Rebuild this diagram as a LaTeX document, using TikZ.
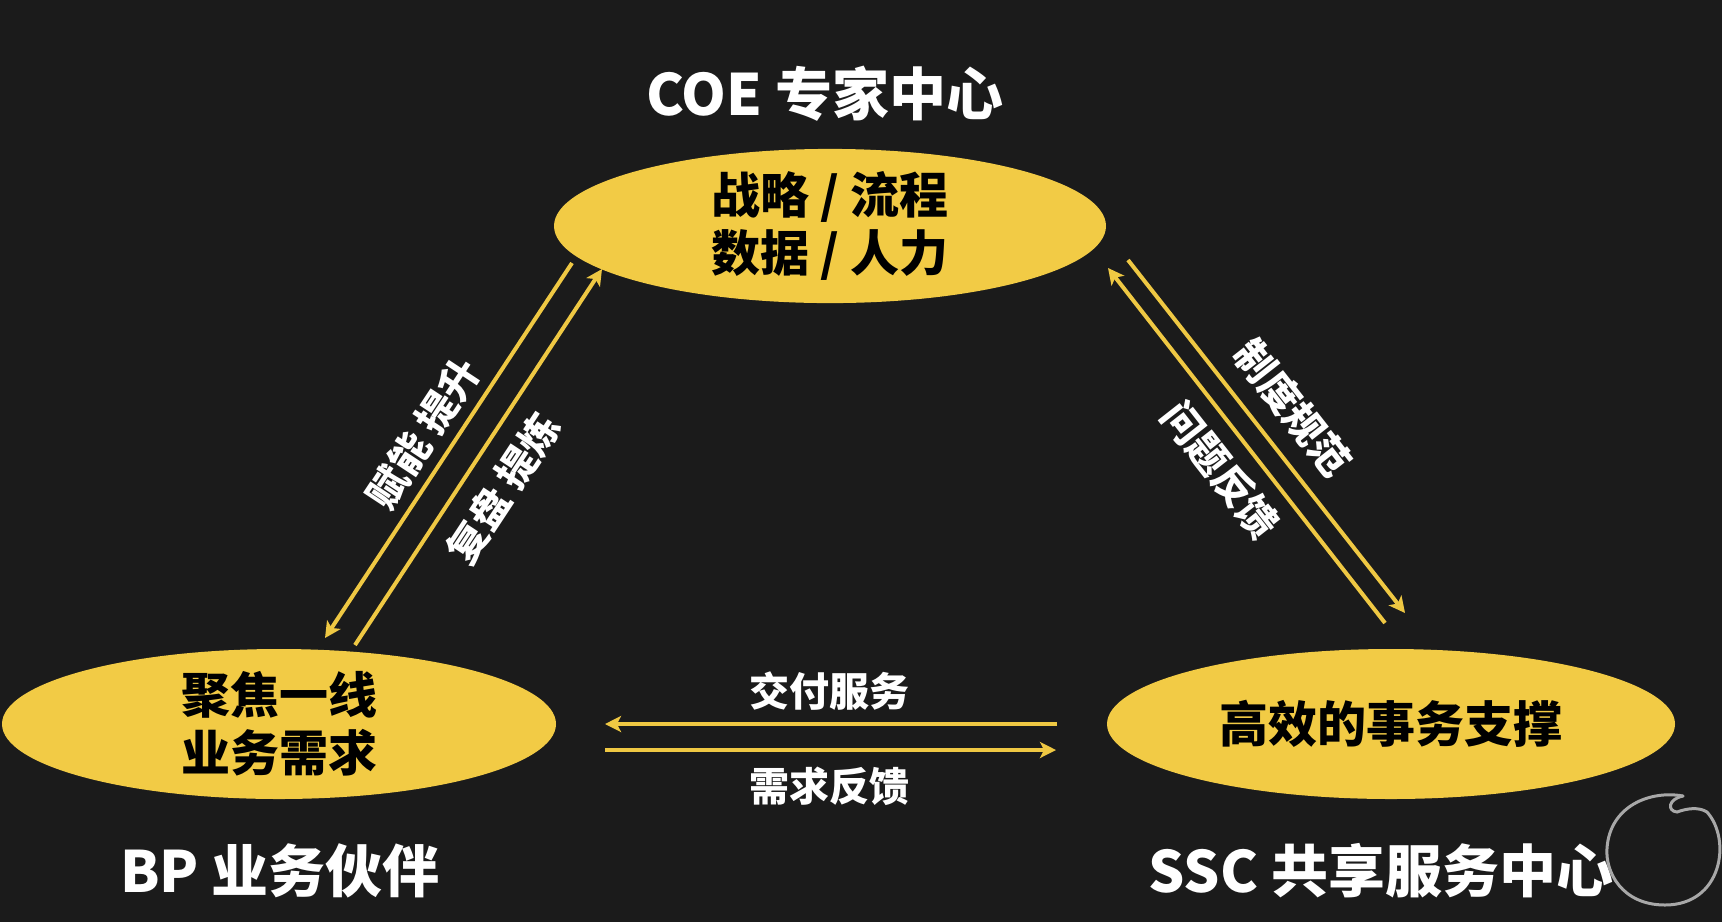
\documentclass[tikz,border=0pt]{standalone}
\usepackage{fontspec}
\setmainfont{Noto Sans CJK SC}
\usetikzlibrary{shapes.geometric,arrows.meta,calc}
\definecolor{bgc}{HTML}{1B1B1B}
\definecolor{gold}{HTML}{F2CB45}
\definecolor{goldline}{HTML}{EFC843}
\definecolor{wmgray}{HTML}{A8A8A8}
\begin{document}
\begin{tikzpicture}[x=0.5pt,y=-0.5pt,
  blob/.style={ellipse,fill=gold,draw=none,inner sep=0pt,align=center,text=black,
    font=\fontsize{24.5pt}{29pt}\selectfont\bfseries},
  title/.style={text=white,inner sep=0pt,font=\fontsize{28.5pt}{32pt}\selectfont\bfseries},
  lab/.style={text=white,inner sep=0pt,font=\fontsize{20pt}{24pt}\selectfont\bfseries},
  flow/.style={draw=goldline,line width=2pt,-{Stealth[length=8pt,width=8pt,inset=2pt]}},
  wm/.style={draw=wmgray,line width=1.5pt,line cap=round}]
\fill[bgc] (0,0) rectangle (1722,922);
\useasboundingbox (0,0) rectangle (1722,922);

% ellipses
\node[blob,minimum width=276pt,minimum height=74pt] (coe) at (830,226) {战略 / 流程\\数据 / 人力};
\node[blob,minimum width=277pt,minimum height=75pt] (bp) at (279,724) {聚焦一线\\业务需求};
\node[blob,minimum width=284pt,minimum height=75pt] (ssc) at (1391,724) {高效的事务支撑};

% titles
\node[title] (coeT) at (825,94) {COE 专家中心};
\node[title] (bpT) at (280,871) {BP 业务伙伴};
\node[title] (sscT) at (1381,871) {SSC 共享服务中心};

% connector end points
\coordinate (c1a) at ($(coe)+(-258,37)$);
\coordinate (c1b) at ($(bp)+(46,-86)$);
\coordinate (c2a) at ($(bp)+(76,-79)$);
\coordinate (c2b) at ($(coe)+(-228,43)$);
\coordinate (c3a) at ($(coe)+(298,34)$);
\coordinate (c3b) at ($(ssc)+(14,-111)$);
\coordinate (c4a) at ($(ssc)+(-6,-101)$);
\coordinate (c4b) at ($(coe)+(278,42)$);
\coordinate (c5a) at ($(ssc)+(-334,0)$);
\coordinate (c5b) at ($(bp)+(326,0)$);
\coordinate (c6a) at ($(bp)+(326,26)$);
\coordinate (c6b) at ($(ssc)+(-335,26)$);

\draw[flow] (c1a) -- (c1b);
\draw[flow] (c2a) -- (c2b);
\draw[flow] (c3a) -- (c3b);
\draw[flow] (c4a) -- (c4b);
\draw[flow] (c5a) -- (c5b);
\draw[flow] (c6a) -- (c6b);

% labels
\node[lab,rotate=56.6] (l1) at (423,433) {赋能 提升};
\node[lab,rotate=56.6] (l2) at (503,488) {复盘 提炼};
\node[lab,rotate=-51.9] (l3) at (1293,408) {制度规范};
\node[lab,rotate=-51.9] (l4) at (1221,470) {问题反馈};
\node[lab] (l5) at (829,691) {交付服务};
\node[lab] (l6) at (829,786) {需求反馈};

% watermark
\draw[wm] (1707,812) .. controls (1732,840) and (1722,905) .. (1665,905)
  .. controls (1622,905) and (1605,872) .. (1607,848)
  .. controls (1610,806) and (1650,790) .. (1683,796);
\draw[wm] (1683,796) .. controls (1668,799) and (1667,811) .. (1677,812)
  .. controls (1688,808) and (1699,807) .. (1707,812);
\end{tikzpicture}
\end{document}
